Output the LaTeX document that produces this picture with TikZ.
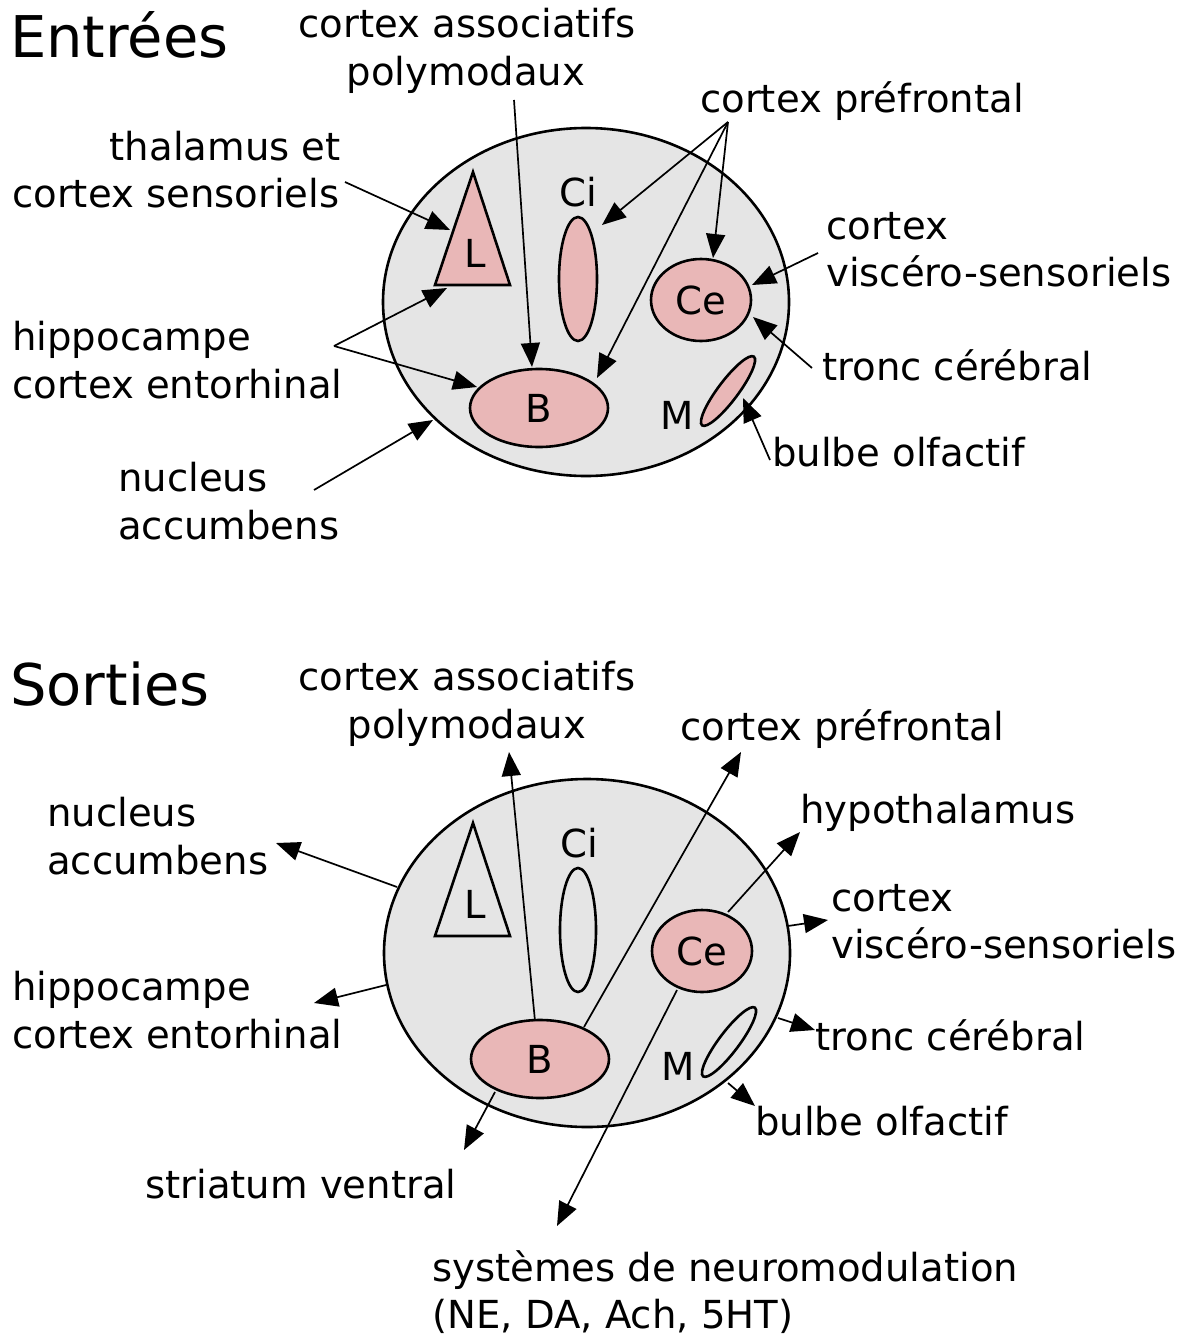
\documentclass[tikz,border=0pt]{standalone}
\usepackage{fontspec}
\setmainfont{DejaVu Sans}
\usetikzlibrary{shapes.geometric,arrows.meta}
\definecolor{pinkf}{RGB}{233,183,183}
\definecolor{bggray}{RGB}{229,229,229}
\begin{document}
\begin{tikzpicture}[x=1pt,y=-1pt,
  txt/.style={inner sep=0pt, anchor=base west, font=\fontsize{38.6}{46}\selectfont},
  txtc/.style={txt, anchor=base},
  ttl/.style={inner sep=0pt, anchor=base west, font=\fontsize{57.5}{68}\selectfont},
  lab/.style={inner sep=0pt, font=\fontsize{38.6}{46}\selectfont},
  outer/.style={ellipse, draw, line width=2.6pt, fill=bggray, inner sep=0pt, minimum width=406pt, minimum height=348pt},
  part/.style={ellipse, draw, line width=2.6pt, inner sep=0pt},
  tri/.style={draw, line width=2.6pt, line join=miter},
  arr/.style={line width=1.7pt, -{Triangle[length=24pt,width=19pt]}},
]
\useasboundingbox (0,0) rectangle (1189,1335);

% ================= ENTREES =================
\node[ttl] (tEntrees) at (10,58) {Entrées};
\node[outer] (E1) at (586,302) {};
\draw[tri, fill=pinkf] (473,172) -- (435,285) -- (510,285) -- cycle;
\node[lab] (L1) at (475,253) {L};
\node[part, fill=pinkf, minimum width=38pt, minimum height=124pt] (Ci1) at (578,279) {};
\node[lab] (Ci1lab) at (578,192) {Ci};
\node[part, fill=pinkf, minimum width=100pt, minimum height=82pt] (Ce1) at (701,300) {};
\node[lab] at (Ce1.center) {Ce};
\node[part, fill=pinkf, minimum width=138pt, minimum height=78pt] (B1) at (539,408) {};
\node[lab] at (B1.center) {B};
\node[part, fill=pinkf, minimum width=86pt, minimum height=20pt, rotate=53] (M1) at (728,391) {};
\node[lab] (M1lab) at (677,415) {M};

% texts
\node[txtc] (tAssoc1) at (467,38) {cortex associatifs};
\node[txtc] (tPoly1) at (466,86) {polymodaux};
\node[txt] (tPref1) at (700,113) {cortex préfrontal};
\node[txt, anchor=base east] (tThal1) at (341,160) {thalamus et};
\node[txt] (tSens1) at (12,207) {cortex sensoriels};
\node[txt] (tCort1) at (826,239) {cortex};
\node[txt] (tVisc1) at (826,286) {viscéro-sensoriels};
\node[txt] (tHip1) at (12,350) {hippocampe};
\node[txt] (tEnt1) at (12,398) {cortex entorhinal};
\node[txt] (tTronc1) at (822,380) {tronc cérébral};
\node[txt] (tNuc1) at (118,491) {nucleus};
\node[txt] (tAcc1) at (118,539) {accumbens};
\node[txt] (tBulbe1) at (772,466) {bulbe olfactif};

% connector ends
\coordinate (sPoly1) at (514,100);
\coordinate (hPref1) at (728,122);
\coordinate (sThal1) at (345,182);
\coordinate (hHip1) at (334,346);
\coordinate (sNuc1) at (314,490);
\coordinate (sVisc1) at (818,253);
\coordinate (sTronc1) at (812,368);
\coordinate (sBulbe1) at (770,460);
\coordinate (eB1top) at (532,367);
\coordinate (eCi1) at (602,225);
\coordinate (eCe1top) at (713,258);
\coordinate (eB1right) at (597,378);
\coordinate (eL1side) at (450,230);
\coordinate (eL1base) at (447,288);
\coordinate (eB1left) at (477,387);
\coordinate (eE1) at (433,420);
\coordinate (eCe1right) at (752,285);
\coordinate (eCe1low) at (753,317);
\coordinate (eM1) at (743,398);

\draw[arr] (sPoly1) -- (eB1top);
\draw[arr] (hPref1) -- (eCi1);
\draw[arr] (hPref1) -- (eCe1top);
\draw[arr] (hPref1) -- (eB1right);
\draw[arr] (sThal1) -- (eL1side);
\draw[arr] (hHip1) -- (eL1base);
\draw[arr] (hHip1) -- (eB1left);
\draw[arr] (sNuc1) -- (eE1);
\draw[arr] (sVisc1) -- (eCe1right);
\draw[arr] (sTronc1) -- (eCe1low);
\draw[arr] (sBulbe1) -- (eM1);

% ================= SORTIES =================
\node[ttl] (tSorties) at (10,705) {Sorties};
\node[outer] (E2) at (587,953) {};
\draw[tri] (473,823) -- (435,936) -- (510,936) -- cycle;
\node[lab] (L2) at (475,904) {L};
\node[part, minimum width=36pt, minimum height=124pt] (Ci2) at (578,930) {};
\node[lab] (Ci2lab) at (579,843) {Ci};
\node[part, fill=pinkf, minimum width=100pt, minimum height=82pt] (Ce2) at (702,951) {};
\node[lab] at (Ce2.center) {Ce};
\node[part, fill=pinkf, minimum width=138pt, minimum height=78pt] (B2) at (540,1059) {};
\node[lab] at (B2.center) {B};
\node[part, minimum width=86pt, minimum height=20pt, rotate=53] (M2) at (729,1042) {};
\node[lab] (M2lab) at (678,1066) {M};

% texts
\node[txtc] (tAssoc2) at (467,690) {cortex associatifs};
\node[txtc] (tPoly2) at (467,738) {polymodaux};
\node[txt] (tPref2) at (680,740) {cortex préfrontal};
\node[txt] (tNuc2) at (47,826) {nucleus};
\node[txt] (tAcc2) at (47,874) {accumbens};
\node[txt] (tHyp2) at (800,823) {hypothalamus};
\node[txt] (tCort2) at (831,911) {cortex};
\node[txt] (tVisc2) at (831,958) {viscéro-sensoriels};
\node[txt] (tHip2) at (12,1000) {hippocampe};
\node[txt] (tEnt2) at (12,1048) {cortex entorhinal};
\node[txt] (tTronc2) at (815,1050) {tronc cérébral};
\node[txt] (tBulbe2) at (755,1135) {bulbe olfactif};
\node[txt] (tStr2) at (145,1198) {striatum ventral};
\node[txt] (tSys2) at (432,1281) {systèmes de neuromodulation};
\node[txt] (tNE2) at (432,1328) {(NE, DA, Ach, 5HT)};

% connector ends
\coordinate (sB2top) at (535,1021);
\coordinate (ePoly2) at (509,752);
\coordinate (sB2right) at (584,1027);
\coordinate (ePref2) at (741,752);
\coordinate (sCe2top) at (728,912);
\coordinate (eHyp2) at (800,832);
\coordinate (sCe2low) at (677,990);
\coordinate (eSys2) at (557,1226);
\coordinate (sB2low) at (495,1092);
\coordinate (eStr2) at (464,1150);
\coordinate (sE2nuc) at (397,887);
\coordinate (eNuc2) at (276,843);
\coordinate (sE2hip) at (386,985);
\coordinate (eHip2) at (314,1003);
\coordinate (sE2visc) at (788,926);
\coordinate (eVisc2) at (828,920);
\coordinate (sE2tronc) at (778,1018);
\coordinate (eTronc2) at (815,1030);
\coordinate (sE2bulbe) at (728,1083);
\coordinate (eBulbe2) at (755,1106);

\draw[arr] (sB2top) -- (ePoly2);
\draw[arr] (sB2right) -- (ePref2);
\draw[arr] (sCe2top) -- (eHyp2);
\draw[arr] (sCe2low) -- (eSys2);
\draw[arr] (sB2low) -- (eStr2);
\draw[arr] (sE2nuc) -- (eNuc2);
\draw[arr] (sE2hip) -- (eHip2);
\draw[arr] (sE2visc) -- (eVisc2);
\draw[arr] (sE2tronc) -- (eTronc2);
\draw[arr] (sE2bulbe) -- (eBulbe2);
\end{tikzpicture}
\end{document}
